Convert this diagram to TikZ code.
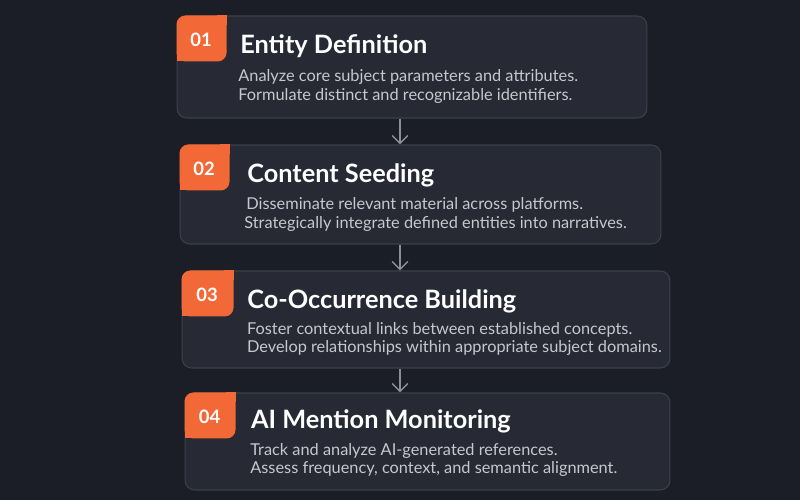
\documentclass[tikz,border=0pt]{standalone}
\usepackage{fontspec}
\setmainfont{Lato}
\usetikzlibrary{calc,arrows.meta}
\definecolor{bgdark}{HTML}{1B1E27}
\definecolor{cardfill}{HTML}{272A35}
\definecolor{cardline}{HTML}{3C404C}
\definecolor{badgeorange}{HTML}{F26837}
\definecolor{bodygrey}{HTML}{C6C8CE}
\definecolor{arrowgrey}{HTML}{8C8F98}
\tikzset{
	card/.style={draw=cardline, fill=cardfill, line width=0.6pt, rounded corners=5.5pt, inner sep=0pt},
	badge/.style={fill=badgeorange},
	badgenum/.style={anchor=base, inner sep=0pt, text=white, font=\fontsize{10.5}{12}\selectfont\bfseries},
	title/.style={anchor=base west, inner sep=0pt, text=white, font=\fontsize{14.4}{16}\selectfont\bfseries},
	body/.style={anchor=base west, inner sep=0pt, text=bodygrey, font=\fontsize{9.3}{11}\selectfont},
	flow/.style={draw=arrowgrey, line width=0.85pt, -{Straight Barb[length=4.5pt,width=9pt]}}
}
% orange number tab in the top left corner of a card
\newcommand{\badgebox}[3]{%
	\fill[badge, rounded corners=5pt] (#1.north west) rectangle ($(#1.north west)+(#2,46)$);
	\fill[badge] ($(#1.north west)+(#2-10,0)$) rectangle ($(#1.north west)+(#2,10)$);
	\fill[badge] ($(#1.north west)+(0,36)$) rectangle ($(#1.north west)+(10,46)$);
	\node[badgenum] (#1num) at ($(#1.north west)+(#2/2-0.5,31)$) {#3};
}
\begin{document}
\begin{tikzpicture}[x=0.02cm, y=-0.02cm]
		%%%%% START %%%%%
		
		\fill[bgdark] (0,0) rectangle (800,500);
		\coordinate (axis) at (400,0);
		
		\node[card, minimum width=9.4cm, minimum height=2.04cm] (card1) at (412,67) {};
		\badgebox{card1}{50}{01}
		\node[title] (card1title) at (240,53) {Entity Definition};
		\node[body] (card1a) at (238,81.5) {Analyze core subject parameters and attributes.};
		\node[body] (card1b) at (238,100.5) {Formulate distinct and recognizable identifiers.};
		
		\node[card, minimum width=9.62cm, minimum height=1.98cm] (card2) at (420.5,194.5) {};
		\badgebox{card2}{50}{02}
		\node[title] (card2title) at (247,182) {Content Seeding};
		\node[body] (card2a) at (246,209.5) {Disseminate relevant material across platforms.};
		\node[body] (card2b) at (244,228.5) {Strategically integrate defined entities into narratives.};
		
		\node[card, minimum width=9.76cm, minimum height=1.94cm] (card3) at (426,319.5) {};
		\badgebox{card3}{52}{03}
		\node[title] (card3title) at (247,308.3) {Co-Occurrence Building};
		\node[body] (card3a) at (246.7,334) {Foster contextual links between established concepts.};
		\node[body] (card3b) at (246.7,352.7) {Develop relationships within appropriate subject domains.};
		
		\node[card, minimum width=9.7cm, minimum height=1.94cm] (card4) at (427.5,441.5) {};
		\badgebox{card4}{51}{04}
		\node[title] (card4title) at (250.7,428.3) {AI Mention Monitoring};
		\node[body] (card4a) at (250,455) {Track and analyze AI-generated references.};
		\node[body] (card4b) at (250,473.3) {Assess frequency, context, and semantic alignment.};
		
		\draw[flow] (card1.south -| axis) -- (card2.north -| axis);
		\draw[flow] (card2.south -| axis) -- (card3.north -| axis);
		\draw[flow] (card3.south -| axis) -- (card4.north -| axis);
		
		%%%%% END %%%%%
	\end{tikzpicture}
\end{document}
